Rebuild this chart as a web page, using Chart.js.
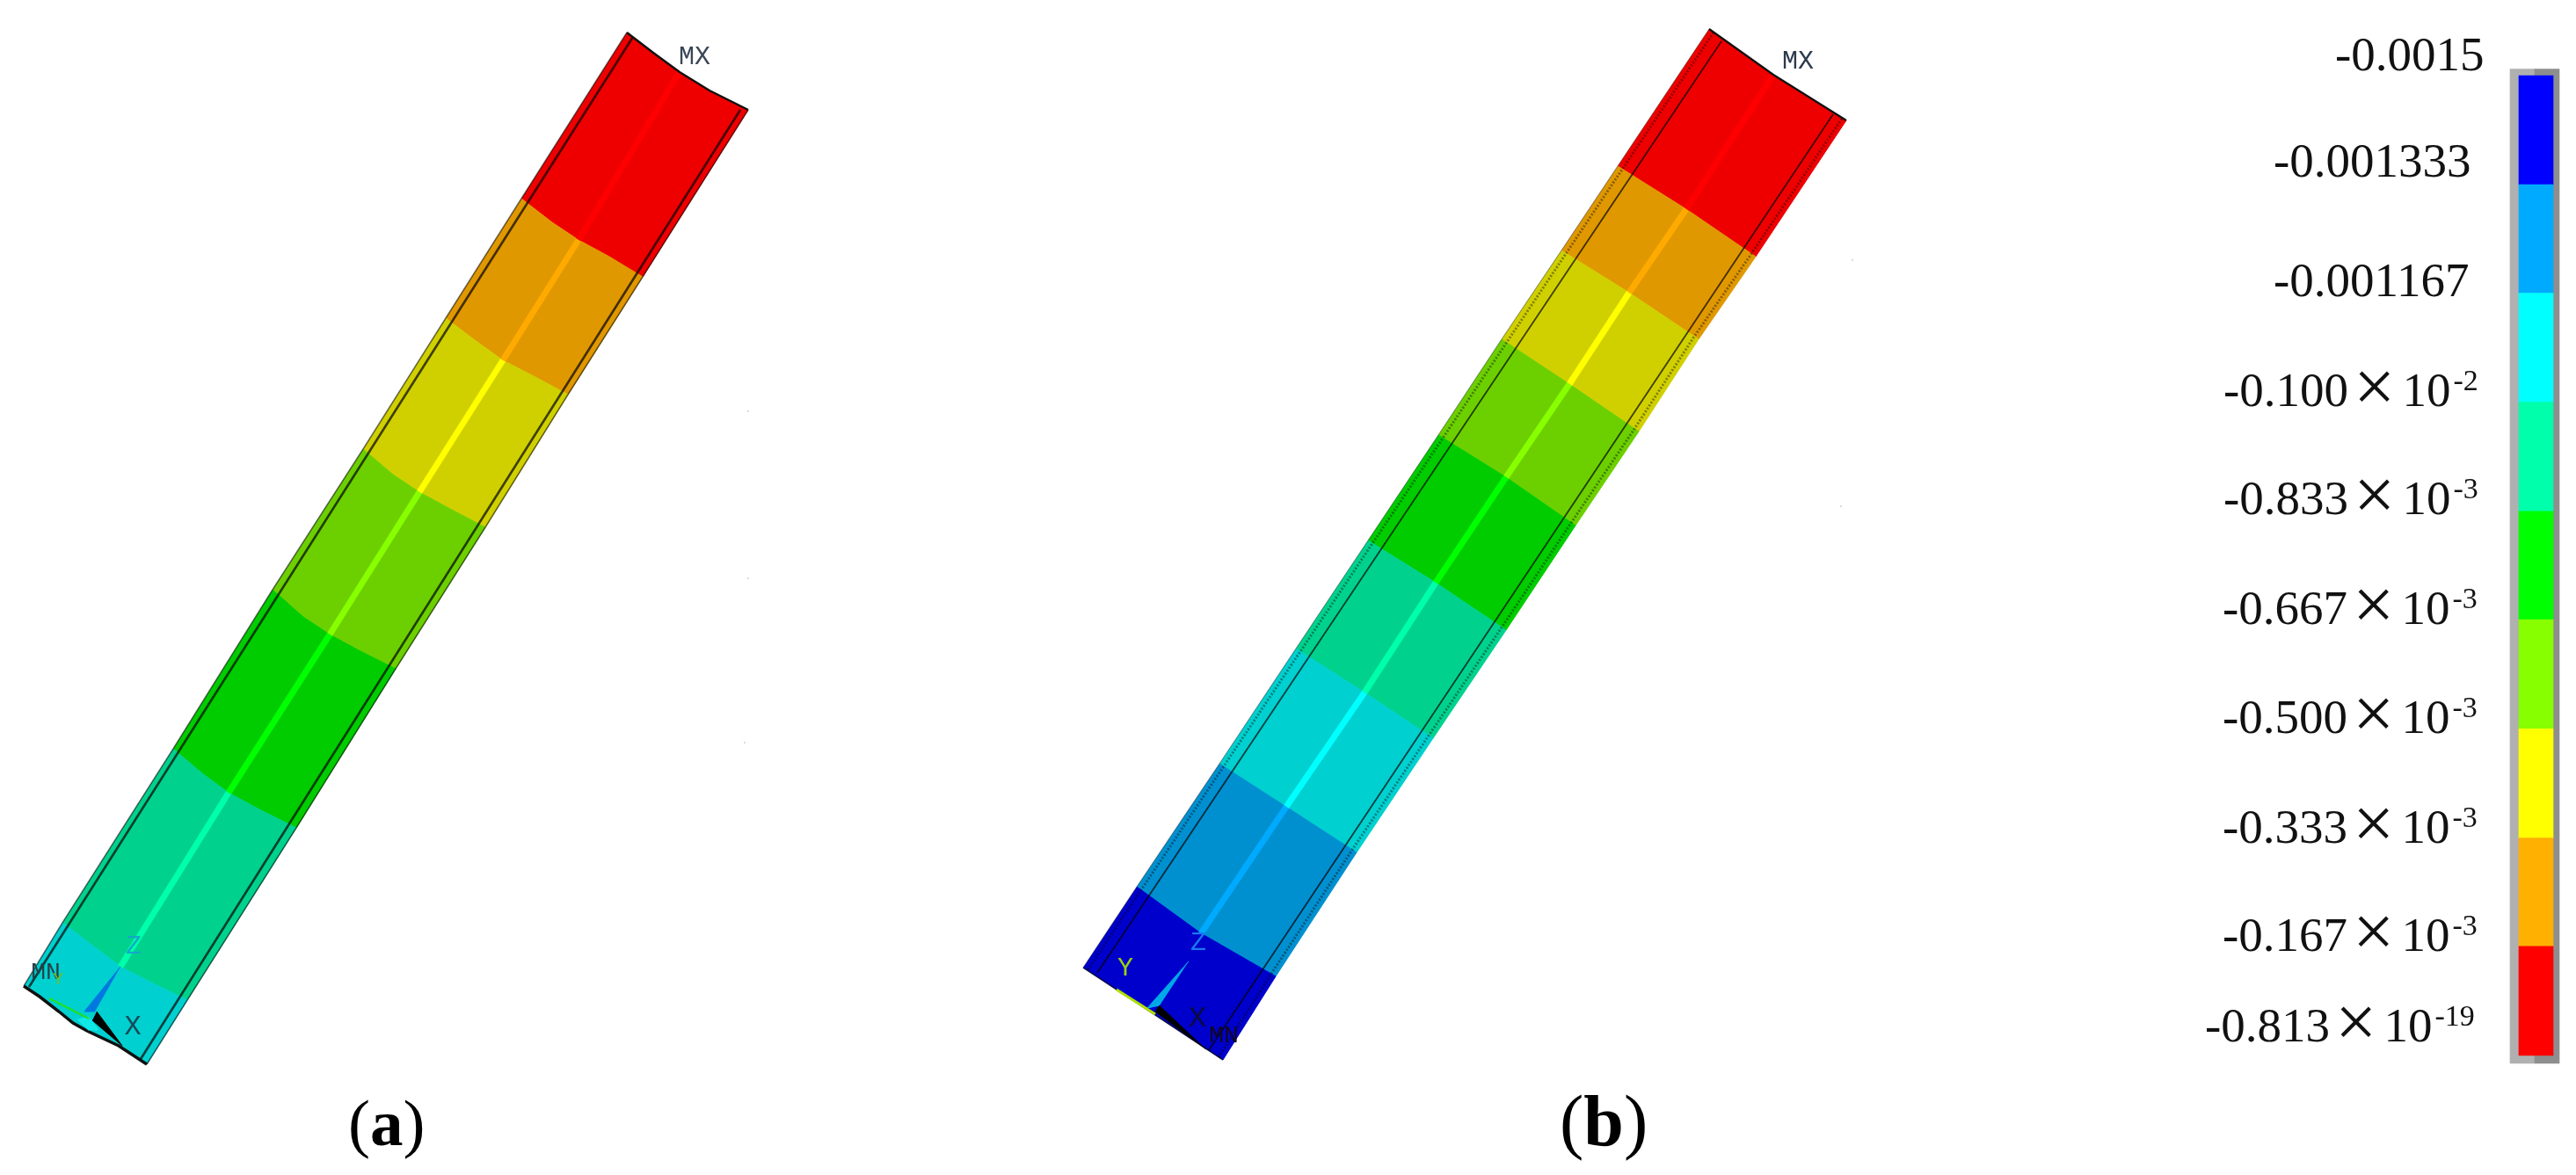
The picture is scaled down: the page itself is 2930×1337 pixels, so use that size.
<!DOCTYPE html>
<html><head><meta charset="utf-8">
<style>html,body{margin:0;padding:0;background:#fff}canvas{display:block}</style>
<script src="https://cdn.jsdelivr.net/npm/chart.js@4"></script>
</head><body><canvas id="c" width="2930" height="1337"></canvas>
<script>
// Colour scale
const levels = [-0.0015,-0.001333,-0.001167,-0.001,-0.000833,-0.000667,-0.0005,-0.000333,-0.000167,0];
const legendColors = ['#0000ff','#00aaff','#00ffff','#00ffaa','#00ff00','#88ff00','#ffff00','#ffb000','#ff0000'];
const tickMain = ['-0.0015','-0.001333','-0.001167','-0.100','-0.833','-0.667','-0.500','-0.333','-0.167','-0.813'];
const tickExp  = [null,null,null,'-2','-3','-3','-3','-3','-3','-19'];
const tickX = [2656,2586,2586,2529,2529,2528,2528,2528,2528,2508];
const tickY = [62,183,319,444,567,692,816,941,1064,1167];

// Contour fills, shaded faces and the lighter centre web
const bandRed='#ee0000', bandOrange='#e09800', bandYellow='#d0d000', bandLime='#6cd000', bandGreen='#00cc00', bandTeal='#00d28e', bandCyan='#00d0d0', bandBlue='#0090d0', bandNavy='#0000cc';
const webRed='#ff0000', webOrange='#ffaa00', webYellow='#ffff00', webLime='#88ff00', webGreen='#00ff00', webTeal='#00ffaa', webCyan='#00ffff', webBlue='#00aaff';

// Panel (a): contour boundaries, each read left face -> web -> right face
const aTop = [[713,37],[743,60],[773,82],[807,103],[851,125]];
const a1 = [[593,226],[628,253],[658,273],[693,292],[731,315]];
const a2 = [[507,362],[540,387],[572,410],[607,428],[646,449]];
const a3 = [[413,511],[447,540],[477,560],[512,579],[552,600]];
const a4 = [[310,671],[345,702],[375,722],[410,741],[450,761]];
const a5 = [[197,852],[230,880],[260,902],[295,921],[337,942]];
const a6 = [[71,1050],[108,1078],[137,1100],[170,1117],[213,1138]];
const aBottom = [[27,1122],[45,1134],[67,1151],[83,1164],[99,1173],[135,1190],[167,1211]];
const aInnerLeft = [[720,42],[33,1123]];
const aInnerRight = [[842,125],[160,1205]];

// Panel (b)
const bTop = [[1944,33],[2017,85],[2100,137]];
const b1 = [[1840,189],[1918,238],[1997,292]];
const b2 = [[1776,285],[1853,333],[1932,386]];
const b3 = [[1708,386],[1785,437],[1864,491]];
const b4 = [[1636,495],[1713,543],[1792,598]];
const b5 = [[1556,615],[1633,663],[1713,717]];
const b6 = [[1474,738],[1552,788],[1630,840]];
const b7 = [[1387,869],[1463,918],[1543,970]];
const b8 = [[1293,1009],[1366,1062],[1451,1111]];
const bBottom = [[1232,1101],[1308,1151],[1391,1206]];
const bInnerLeft = [[1958,47],[1248,1107]];
const bInnerRight = [[2085,130],[1375,1195]];
const bHatchLeft = [[1949,37],[1237,1104]];
const bHatchRight = [[2095,135],[1992,289],[1927,383],[1859,488],[1787,595],[1708,714],[1625,837],[1538,967],[1446,1108],[1386,1203]];

// Triad marks and stray specks
const aTaper = [[137,1100],[96,1151],[108,1151]];
const aBlack = [[110,1151],[139,1190],[105,1161]];
const aGreenAxis = [[56,1136],[101,1159]];
const aCyanSpot = [[88,1160],[101,1157],[112,1172],[100,1172]];
const bTaper = [[1352,1094],[1305,1147],[1319,1144]];
const bBlack = [[1319,1144],[1314,1151],[1372,1194]];
const bGreenAxis = [[1270,1126],[1314,1154]];
const specks = [[851,468],[851,658],[847,845],[2107,296],[2094,576]];

// Text on the model
const annotations = [
  ['MX',790,65,'#3a4658',30],['MN',52,1107,'#24424a',28],['Y',66,1115,'#6fc020',20],['Z',152,1077,'#14a8c8',30],['X',151,1169,'#174a58',32],
  ['MX',2045,70,'#2c3a4c',30],['Y',1280,1102,'#9ad010',30],['Z',1363,1073,'#1a78f0',30],['X',1362,1159,'#0a0a40',34],['MN',1392,1179,'#100820',28]
];
const panelLabels = [[396,'a',75],[1774,'b',82]];
const panelBaseline = 1303;

const pts = a => a.map(([x,y]) => ({x,y}));
const ds = [];
const order = () => 1000 - ds.length;
function poly(points, color){
  ds.push({type:'scatter',showLine:true,data:pts(points),fill:'shape',backgroundColor:color,borderColor:color,borderWidth:1,pointRadius:0,tension:0,order:order()});
}
function line(points, color, width, dash){
  ds.push({type:'scatter',showLine:true,data:pts(points),fill:false,borderColor:color,borderWidth:width,borderDash:dash||[],borderCapStyle:'butt',pointRadius:0,tension:0,order:order()});
}
function bands(bounds, colors, webs){
  for(let i=0;i<colors.length;i++) poly(bounds[i].concat(bounds[i+1].slice().reverse()), colors[i]);
  const mids = bounds.slice(0,webs.length+1).map(b => b[Math.floor((b.length-1)/2)]);
  webs.forEach((w,i)=>line([mids[i],mids[i+1]],w,7));
}
const aBounds=[aTop,a1,a2,a3,a4,a5,a6,aBottom];
bands(aBounds,[bandRed,bandOrange,bandYellow,bandLime,bandGreen,bandTeal,bandCyan],[webRed,webOrange,webYellow,webLime,webGreen,webTeal]);
const bBounds=[bTop,b1,b2,b3,b4,b5,b6,b7,b8,bBottom];
bands(bBounds,[bandRed,bandOrange,bandYellow,bandLime,bandGreen,bandTeal,bandCyan,bandBlue,bandNavy],[webRed,webOrange,webYellow,webLime,webGreen,webTeal,webCyan,webBlue]);

const faint='rgba(0,0,0,.55)', dark='rgba(0,0,0,.7)';
// panel (a) outlines
line(aBounds.map(b=>b[0]),faint,1.5);
line(aBounds.map(b=>b[b.length-1]),faint,1.5);
line(aInnerLeft,dark,2.6); line(aInnerRight,dark,2.6);
line(aTop,'#111',2.5); line(aBottom,'#111',3.5);
// panel (b) outlines
line(bInnerLeft,dark,1.8); line(bInnerRight,dark,1.8);
line(bHatchLeft,'rgba(0,0,0,.4)',3,[2,2]); line(bHatchRight,'rgba(0,0,0,.4)',3,[2,2]);
line(bBounds.map(b=>b[0]),'rgba(0,0,0,.35)',1.2);
line(bTop,'#111',2.2); line(bBottom,'rgba(0,0,0,.6)',1.5);
// triads
poly(aCyanSpot,'#10e8e8'); poly(aTaper,'#0078e0'); line(aGreenAxis,'#20e020',2); poly(aBlack,'#000');
poly(bTaper,'#00a8e8'); line(bGreenAxis,'#b0e000',3); poly(bBlack,'#000');
ds.push({type:'scatter',data:pts(specks),pointRadius:1,pointBackgroundColor:'#cfcfcf',pointBorderWidth:0,showLine:false,order:order()});

// colour bar: frame then one floating bar per level interval
ds.push({type:'bar',yAxisID:'yBar',grouped:false,order:order(),barThickness:28,backgroundColor:'#b0b0b0',borderWidth:0,
  data:[{x:2869,y:[-0.00151,0.0000121]}]});
ds.push({type:'bar',yAxisID:'yBar',grouped:false,order:order(),barThickness:28,backgroundColor:'#8e8e8e',borderWidth:0,
  data:[{x:2897,y:[-0.00151,0.0000121]}]});
ds.push({type:'bar',yAxisID:'yBar',grouped:false,order:order(),barThickness:39,borderWidth:0,backgroundColor:legendColors,
  data:legendColors.map((c,i)=>({x:2884.5,y:[levels[i],levels[i+1]]}))});

const textPlugin={id:'text',afterDatasetsDraw(ch){
  const g=ch.ctx,X=ch.scales.x,Y=ch.scales.y;
  g.save(); g.textBaseline='alphabetic'; g.textAlign='left'; g.fillStyle='#111';
  tickMain.forEach((t,i)=>{
    let px=X.getPixelForValue(tickX[i]); const py=Y.getPixelForValue(tickY[i])+18;
    g.font='55px "Liberation Serif"'; g.fillText(t,px,py); px+=g.measureText(t).width;
    if(tickExp[i]){
      px+=6; g.font='84px "Liberation Serif"'; g.fillText('×',px,py+6); px+=g.measureText('×').width+8;
      g.font='55px "Liberation Serif"'; g.fillText('10',px,py); px+=g.measureText('10').width+3;
      g.font='34px "Liberation Serif"'; g.fillText(tickExp[i],px,py-18);
    }
  });
  annotations.forEach(([t,x,y,c,s])=>{
    g.font=s+'px "Liberation Mono"'; g.fillStyle=c; g.textAlign='center'; g.textBaseline='middle';
    g.fillText(t,X.getPixelForValue(x),Y.getPixelForValue(y));
  });
  g.textAlign='left'; g.textBaseline='alphabetic'; g.fillStyle='#000';
  panelLabels.forEach(([x,l,s])=>{
    let px=X.getPixelForValue(x); const py=Y.getPixelForValue(panelBaseline);
    g.font=s+'px "Liberation Serif"'; g.fillText('(',px,py); px+=g.measureText('(').width;
    g.font='bold '+s+'px "Liberation Serif"'; g.fillText(l,px,py); px+=g.measureText(l).width;
    g.font=s+'px "Liberation Serif"'; g.fillText(')',px,py);
  });
  g.restore();
}};

new Chart(document.getElementById('c'),{
  type:'scatter',
  data:{datasets:ds},
  plugins:[textPlugin],
  options:{
    responsive:false,animation:false,devicePixelRatio:1,
    layout:{padding:0,autoPadding:false},
    plugins:{legend:{display:false},tooltip:{enabled:false},title:{display:false}},
    scales:{
      x:{type:'linear',display:false,min:0,max:2930,offset:false},
      y:{type:'linear',display:false,min:0,max:1337,reverse:true},
      yBar:{type:'linear',display:false,min:-0.0016157,max:0.00018296,reverse:true}
    }
  }
});
</script></body></html>
